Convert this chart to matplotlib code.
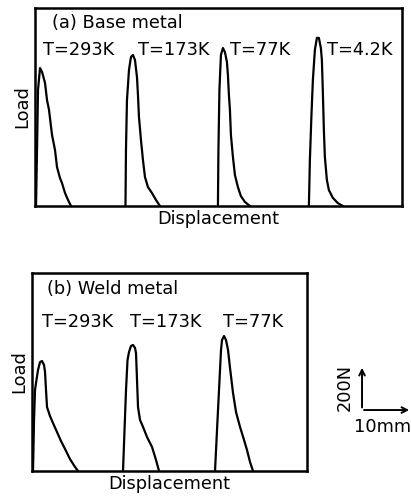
import matplotlib.pyplot as plt
import numpy as np

# Load-displacement traces (displacement in mm, load in N)
# (a) Base metal
base_293_x = [0.2, 0.4, 0.6, 1.0, 1.4, 2.0, 2.4, 2.8, 3.4, 4.0, 4.4, 5.0, 5.4, 6.0, 6.6, 7.2]
base_293_y = [0, 249, 516, 613, 596, 547, 471, 427, 316, 249, 173, 124, 102, 58, 27, 0]
base_173_x = [18.1, 18.2, 18.4, 18.8, 19.2, 19.6, 20.0, 20.4, 20.6, 20.8, 21.2, 21.4, 21.6, 22.0, 22.6, 23.4, 24.2, 25.0]
base_173_y = [0, 249, 471, 604, 662, 671, 649, 573, 493, 396, 293, 249, 204, 129, 84, 58, 27, 0]
base_77_x = [36.6, 36.7, 36.9, 37.2, 37.6, 38.0, 38.4, 38.6, 38.8, 39.0, 39.2, 39.6, 40.0, 40.6, 41.2, 42.0, 43.0]
base_77_y = [0, 249, 516, 671, 702, 684, 640, 582, 493, 427, 316, 218, 138, 84, 44, 18, 0]
base_4_x = [54.8, 55.0, 55.3, 55.6, 56.0, 56.4, 56.8, 57.2, 57.4, 57.6, 57.8, 58.0, 58.4, 58.8, 59.6, 60.6, 61.6]
base_4_y = [0, 204, 396, 560, 693, 747, 747, 702, 649, 502, 338, 218, 116, 71, 36, 13, 0]

# (b) Weld metal
weld_293_x = [0.2, 0.4, 0.6, 0.8, 1.2, 1.6, 2.0, 2.4, 2.6, 2.8, 3.0, 3.6, 4.2, 5.0, 5.8, 6.6, 7.6, 8.6, 9.2]
weld_293_y = [0, 227, 360, 391, 449, 484, 489, 471, 440, 360, 284, 244, 213, 173, 133, 98, 53, 18, 0]
weld_173_x = [18.2, 18.5, 18.8, 19.1, 19.4, 19.8, 20.2, 20.6, 20.8, 21.0, 21.2, 21.6, 22.2, 23.0, 24.0, 24.8, 25.4]
weld_173_y = [0, 182, 360, 493, 529, 556, 560, 547, 524, 404, 284, 227, 196, 151, 107, 49, 0]
weld_77_x = [36.6, 37.0, 37.4, 37.8, 38.0, 38.4, 38.8, 39.2, 39.6, 40.2, 40.8, 41.6, 42.4, 43.0, 43.6, 44.2]
weld_77_y = [0, 182, 360, 538, 582, 600, 582, 538, 458, 347, 262, 196, 138, 93, 40, 0]

base_labels = ['T=293K', 'T=173K', 'T=77K', 'T=4.2K']
base_label_x = [1.6, 20.6, 39.0, 58.4]
weld_labels = ['T=293K', 'T=173K', 'T=77K']
weld_label_x = [2.0, 19.6, 38.2]

# scale bar
bar_load = 200   # N
bar_disp = 10    # mm

fs = 12.8
lw = 1.6

fig = plt.figure(figsize=(4.11, 4.98), dpi=100)
ax_a = fig.add_axes([0.0852, 0.5863, 0.8925, 0.3977])
ax_b = fig.add_axes([0.0779, 0.0542, 0.6691, 0.3976])

for ax in (ax_a, ax_b):
    ax.set_xticks([])
    ax.set_yticks([])
    for s in ax.spines.values():
        s.set_linewidth(1.8)
    ax.set_ylim(0, 880)
    ax.set_xlabel('Displacement', fontsize=fs, labelpad=3)
    ax.set_ylabel('Load', fontsize=fs, labelpad=3)

ax_a.set_xlim(0, 73.4)
ax_b.set_xlim(0, 55)

for x, y in [(base_293_x, base_293_y), (base_173_x, base_173_y),
             (base_77_x, base_77_y), (base_4_x, base_4_y)]:
    ax_a.plot(x, y, color='black', lw=lw)
for x, y in [(weld_293_x, weld_293_y), (weld_173_x, weld_173_y),
             (weld_77_x, weld_77_y)]:
    ax_b.plot(x, y, color='black', lw=lw)

ax_a.text(3.4, 813, '(a) Base metal', fontsize=fs, va='center')
for lab, x in zip(base_labels, base_label_x):
    ax_a.text(x, 693, lab, fontsize=fs, va='center')

ax_b.text(3.0, 809, '(b) Weld metal', fontsize=fs, va='center')
for lab, x in zip(weld_labels, weld_label_x):
    ax_b.text(x, 662, lab, fontsize=fs, va='center')

# scale bar drawn in panel (b) data units
x0, y0 = 66, 271
ax_b.annotate('', xy=(x0, y0 + bar_load), xytext=(x0, y0 - 1),
              arrowprops=dict(arrowstyle='->', lw=1.4, color='black'),
              annotation_clip=False)
ax_b.annotate('', xy=(x0 + bar_disp, y0), xytext=(x0 - 0.15, y0),
              arrowprops=dict(arrowstyle='->', lw=1.4, color='black'),
              annotation_clip=False)
ax_b.text(x0 - 3.4, y0 + bar_load / 2, f'{bar_load}N', fontsize=fs,
          rotation=90, ha='center', va='center', clip_on=False)
ax_b.text(x0 + 4.2, y0 - 75, f'{bar_disp}mm', fontsize=fs,
          ha='center', va='center', clip_on=False)

fig.savefig('out.png', dpi=100)
